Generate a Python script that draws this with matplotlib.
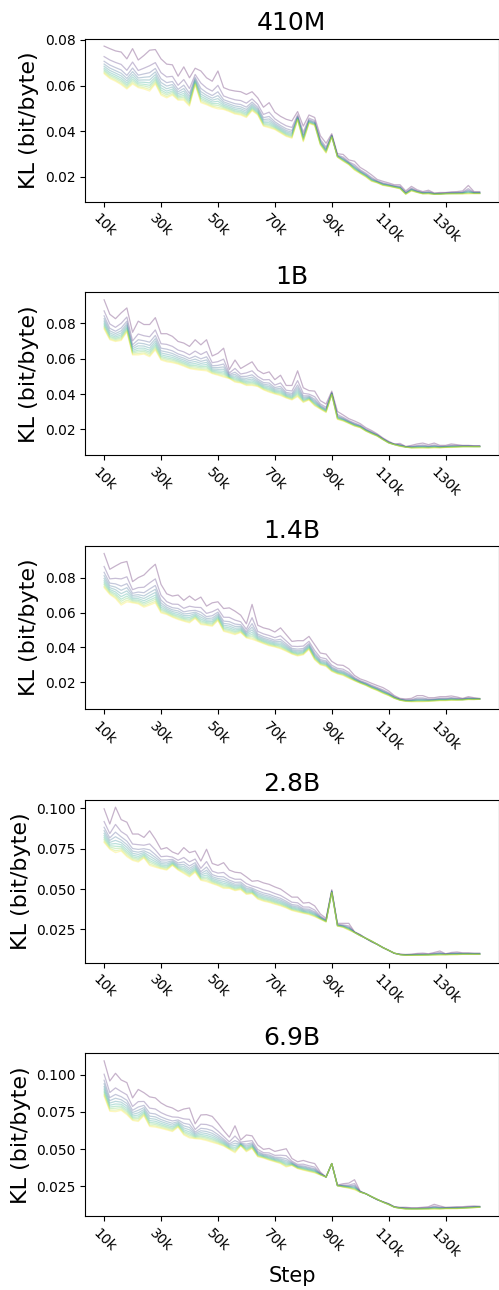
import numpy as np
import matplotlib
matplotlib.use("Agg")
import matplotlib.pyplot as plt

# training step (thousands)
steps = list(range(10, 144, 2))
models = ["410M", "1B", "1.4B", "2.8B", "6.9B"]
tick_steps = [10, 30, 50, 70, 90, 110, 130]
tick_labels = ["10k", "30k", "50k", "70k", "90k", "110k", "130k"]

# highest curve (first checkpoint) and lowest curve (last checkpoint) for each model
top_410m = [0.0773, 0.0762, 0.0752, 0.0747, 0.0717, 0.0762, 0.0712, 0.0732, 0.0755, 0.0758,
            0.0717, 0.0694, 0.0691, 0.0641, 0.0682, 0.0634, 0.0676, 0.0664, 0.0634, 0.0619,
            0.0664, 0.0591, 0.0581, 0.0576, 0.0573, 0.0561, 0.0573, 0.0546, 0.0505, 0.0525,
            0.0483, 0.0465, 0.0452, 0.0445, 0.0486, 0.0422, 0.0471, 0.0460, 0.0380, 0.0347,
            0.0389, 0.0301, 0.0298, 0.0274, 0.0268, 0.0241, 0.0226, 0.0208, 0.0188, 0.0180,
            0.0173, 0.0165, 0.0165, 0.0138, 0.0158, 0.0143, 0.0135, 0.0141, 0.0129, 0.0131,
            0.0131, 0.0134, 0.0135, 0.0138, 0.0162, 0.0135, 0.0135]
low_410m = [0.0652, 0.0631, 0.0619, 0.0604, 0.0585, 0.0607, 0.0591, 0.0585, 0.0576, 0.0607,
            0.0558, 0.0546, 0.0558, 0.0536, 0.0536, 0.0510, 0.0604, 0.0525, 0.0516, 0.0505,
            0.0498, 0.0495, 0.0486, 0.0475, 0.0471, 0.0460, 0.0490, 0.0471, 0.0422, 0.0415,
            0.0407, 0.0392, 0.0377, 0.0369, 0.0449, 0.0354, 0.0434, 0.0425, 0.0339, 0.0304,
            0.0374, 0.0286, 0.0268, 0.0253, 0.0229, 0.0214, 0.0199, 0.0180, 0.0173, 0.0162,
            0.0158, 0.0153, 0.0147, 0.0123, 0.0138, 0.0131, 0.0125, 0.0125, 0.0123, 0.0123,
            0.0125, 0.0125, 0.0125, 0.0125, 0.0125, 0.0126, 0.0126]

top_1b = [0.0934, 0.0852, 0.0827, 0.0860, 0.0888, 0.0750, 0.0813, 0.0794, 0.0794, 0.0833,
          0.0742, 0.0742, 0.0727, 0.0698, 0.0689, 0.0670, 0.0708, 0.0679, 0.0708, 0.0616,
          0.0631, 0.0660, 0.0539, 0.0593, 0.0545, 0.0564, 0.0583, 0.0535, 0.0516, 0.0526,
          0.0482, 0.0507, 0.0449, 0.0449, 0.0532, 0.0436, 0.0420, 0.0417, 0.0363, 0.0344,
          0.0417, 0.0302, 0.0282, 0.0261, 0.0248, 0.0233, 0.0210, 0.0194, 0.0175, 0.0152,
          0.0133, 0.0118, 0.0121, 0.0104, 0.0110, 0.0118, 0.0123, 0.0114, 0.0123, 0.0110,
          0.0110, 0.0118, 0.0114, 0.0110, 0.0110, 0.0108, 0.0108]
low_1b = [0.0769, 0.0708, 0.0698, 0.0704, 0.0752, 0.0622, 0.0622, 0.0627, 0.0612, 0.0650,
          0.0593, 0.0583, 0.0578, 0.0570, 0.0558, 0.0545, 0.0539, 0.0535, 0.0532, 0.0516,
          0.0507, 0.0497, 0.0488, 0.0468, 0.0463, 0.0449, 0.0449, 0.0443, 0.0424, 0.0411,
          0.0401, 0.0392, 0.0378, 0.0367, 0.0386, 0.0353, 0.0367, 0.0334, 0.0315, 0.0296,
          0.0397, 0.0257, 0.0248, 0.0234, 0.0219, 0.0210, 0.0190, 0.0175, 0.0162, 0.0142,
          0.0123, 0.0114, 0.0104, 0.0100, 0.0095, 0.0095, 0.0095, 0.0095, 0.0096, 0.0096,
          0.0098, 0.0098, 0.0100, 0.0102, 0.0102, 0.0102, 0.0102]

top_1_4b = [0.0941, 0.0850, 0.0869, 0.0887, 0.0895, 0.0779, 0.0802, 0.0817, 0.0850, 0.0879,
            0.0763, 0.0709, 0.0696, 0.0702, 0.0671, 0.0696, 0.0671, 0.0690, 0.0638, 0.0657,
            0.0663, 0.0624, 0.0628, 0.0609, 0.0586, 0.0536, 0.0648, 0.0528, 0.0513, 0.0505,
            0.0489, 0.0513, 0.0474, 0.0435, 0.0439, 0.0439, 0.0464, 0.0416, 0.0368, 0.0362,
            0.0320, 0.0300, 0.0297, 0.0277, 0.0239, 0.0219, 0.0208, 0.0194, 0.0181, 0.0169,
            0.0150, 0.0123, 0.0107, 0.0104, 0.0107, 0.0123, 0.0123, 0.0111, 0.0111, 0.0117,
            0.0117, 0.0121, 0.0115, 0.0107, 0.0117, 0.0111, 0.0107]
low_1_4b = [0.0744, 0.0705, 0.0682, 0.0644, 0.0663, 0.0657, 0.0651, 0.0632, 0.0644, 0.0657,
            0.0599, 0.0590, 0.0574, 0.0561, 0.0551, 0.0542, 0.0567, 0.0532, 0.0528, 0.0522,
            0.0555, 0.0493, 0.0484, 0.0474, 0.0486, 0.0455, 0.0447, 0.0435, 0.0422, 0.0410,
            0.0403, 0.0393, 0.0378, 0.0362, 0.0351, 0.0358, 0.0389, 0.0329, 0.0300, 0.0291,
            0.0262, 0.0248, 0.0239, 0.0223, 0.0208, 0.0194, 0.0181, 0.0165, 0.0152, 0.0136,
            0.0123, 0.0107, 0.0096, 0.0090, 0.0088, 0.0088, 0.0088, 0.0090, 0.0092, 0.0094,
            0.0094, 0.0096, 0.0096, 0.0098, 0.0100, 0.0100, 0.0102]

top_2_8b = [0.0996, 0.0902, 0.1006, 0.0929, 0.0913, 0.0840, 0.0840, 0.0819, 0.0860, 0.0808,
            0.0746, 0.0756, 0.0729, 0.0715, 0.0756, 0.0725, 0.0735, 0.0673, 0.0746, 0.0658,
            0.0646, 0.0663, 0.0617, 0.0604, 0.0600, 0.0575, 0.0548, 0.0552, 0.0538, 0.0529,
            0.0513, 0.0500, 0.0475, 0.0450, 0.0450, 0.0413, 0.0417, 0.0396, 0.0346, 0.0319,
            0.0496, 0.0288, 0.0288, 0.0288, 0.0236, 0.0219, 0.0194, 0.0173, 0.0158, 0.0138,
            0.0121, 0.0102, 0.0098, 0.0096, 0.0098, 0.0102, 0.0104, 0.0100, 0.0108, 0.0117,
            0.0100, 0.0108, 0.0111, 0.0106, 0.0106, 0.0104, 0.0104]
low_2_8b = [0.0788, 0.0746, 0.0725, 0.0735, 0.0700, 0.0677, 0.0667, 0.0692, 0.0646, 0.0635,
            0.0625, 0.0617, 0.0646, 0.0617, 0.0596, 0.0575, 0.0604, 0.0554, 0.0546, 0.0533,
            0.0521, 0.0504, 0.0504, 0.0490, 0.0496, 0.0467, 0.0471, 0.0438, 0.0425, 0.0417,
            0.0406, 0.0396, 0.0383, 0.0367, 0.0358, 0.0350, 0.0342, 0.0329, 0.0313, 0.0296,
            0.0479, 0.0271, 0.0263, 0.0246, 0.0231, 0.0211, 0.0196, 0.0179, 0.0158, 0.0138,
            0.0121, 0.0104, 0.0094, 0.0090, 0.0090, 0.0090, 0.0090, 0.0092, 0.0092, 0.0092,
            0.0094, 0.0094, 0.0094, 0.0096, 0.0096, 0.0096, 0.0096]

top_6_9b = [0.1095, 0.0959, 0.1011, 0.0966, 0.0948, 0.0845, 0.0902, 0.0880, 0.0852, 0.0845,
            0.0811, 0.0789, 0.0777, 0.0755, 0.0770, 0.0777, 0.0670, 0.0730, 0.0732, 0.0720,
            0.0675, 0.0625, 0.0580, 0.0657, 0.0561, 0.0595, 0.0589, 0.0527, 0.0498, 0.0504,
            0.0484, 0.0493, 0.0502, 0.0436, 0.0414, 0.0423, 0.0411, 0.0402, 0.0345, 0.0311,
            0.0402, 0.0257, 0.0266, 0.0270, 0.0293, 0.0216, 0.0198, 0.0177, 0.0157, 0.0145,
            0.0132, 0.0111, 0.0107, 0.0107, 0.0104, 0.0104, 0.0107, 0.0111, 0.0127, 0.0116,
            0.0107, 0.0109, 0.0111, 0.0111, 0.0114, 0.0116, 0.0114]
low_6_9b = [0.0857, 0.0755, 0.0752, 0.0761, 0.0732, 0.0693, 0.0686, 0.0725, 0.0652, 0.0648,
            0.0639, 0.0629, 0.0618, 0.0648, 0.0595, 0.0575, 0.0570, 0.0566, 0.0557, 0.0545,
            0.0534, 0.0520, 0.0498, 0.0475, 0.0523, 0.0482, 0.0504, 0.0448, 0.0439, 0.0425,
            0.0414, 0.0402, 0.0379, 0.0389, 0.0368, 0.0357, 0.0348, 0.0339, 0.0325, 0.0311,
            0.0402, 0.0252, 0.0243, 0.0236, 0.0225, 0.0209, 0.0198, 0.0179, 0.0161, 0.0141,
            0.0125, 0.0107, 0.0100, 0.0095, 0.0095, 0.0095, 0.0095, 0.0095, 0.0095, 0.0095,
            0.0098, 0.0098, 0.0098, 0.0100, 0.0102, 0.0104, 0.0107]

# where each of the 10 checkpoint curves sits between lowest (0) and highest (1)
curve_pos = [1.0, 0.62, 0.45, 0.35, 0.27, 0.20, 0.14, 0.09, 0.04, 0.0]

tops = [top_410m, top_1b, top_1_4b, top_2_8b, top_6_9b]
lows = [low_410m, low_1b, low_1_4b, low_2_8b, low_6_9b]

fig, axes = plt.subplots(5, 1, figsize=(4.99, 12.9), dpi=100)
plt.subplots_adjust(left=0.171, right=0.999, top=0.970, bottom=0.057, hspace=0.556)

colors = plt.cm.viridis(np.linspace(0, 1, len(curve_pos)))
for ax, name, top, low in zip(axes, models, tops, lows):
	top = np.array(top)
	low = np.array(low)
	for i, p in enumerate(curve_pos):
		ax.plot(steps, low + p * (top - low), color=colors[i], alpha=0.3, linewidth=0.9)
	ax.set_title(name, fontsize=18)
	ax.set_ylabel("KL (bit/byte)", fontsize=16)
	ax.set_xticks(tick_steps)
	ax.set_xticklabels(tick_labels, rotation=-45)

axes[-1].set_xlabel("Step", fontsize=15)
plt.savefig("out.png")
